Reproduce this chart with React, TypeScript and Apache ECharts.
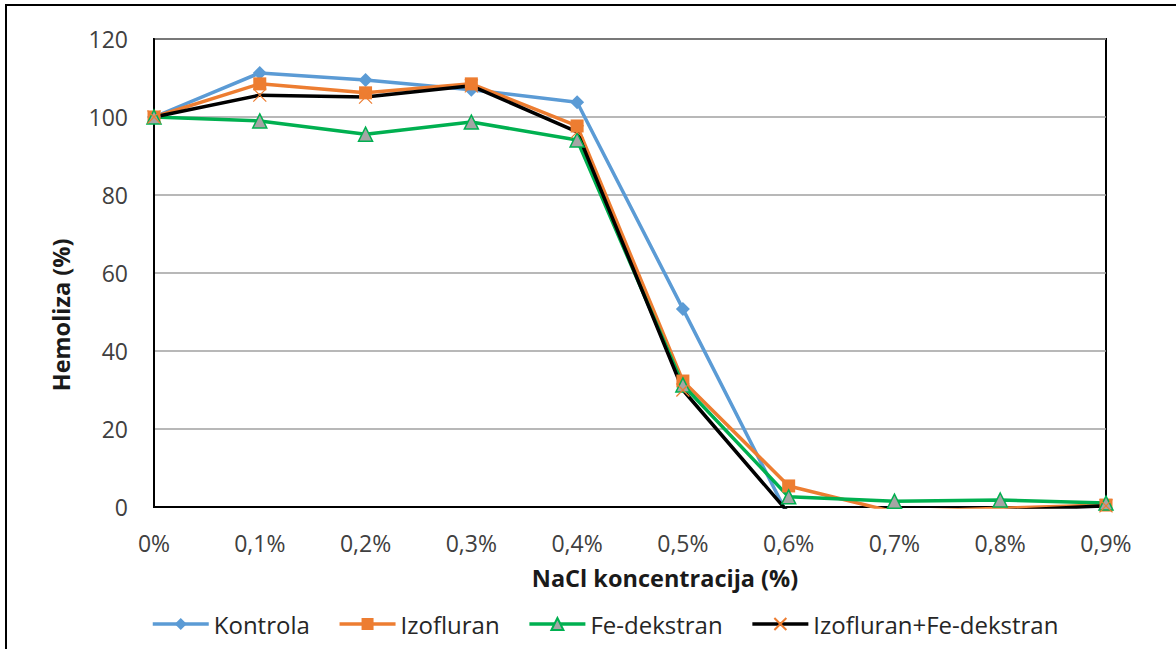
import React, { useEffect, useRef } from "react";
import * as echarts from "echarts";

const categories = ["0%", "0,1%", "0,2%", "0,3%", "0,4%", "0,5%", "0,6%", "0,7%", "0,8%", "0,9%"];
const kontrola = [100, 111.3, 109.5, 107, 103.8, 50.8, -2.5, -2, -1.8, -1.5];
const izofluran = [100, 108.5, 106.2, 108.5, 97.7, 32.3, 5.4, -1.3, -0.3, 0.5];
const feDekstran = [100, 99, 95.6, 98.7, 94.1, 31.3, 2.6, 1.5, 1.8, 1.0];
const izoFe = [100, 105.6, 105.1, 108, 96.2, 30, -1.5, -1, -1, 0.3];
const yTicks = { min: 0, max: 120, interval: 20 };

const FONT = "'Open Sans', 'Noto Sans', sans-serif";

export default function App() {
  const ref = useRef<HTMLDivElement>(null);
  useEffect(() => {
    if (!ref.current) return;
    const chart = echarts.init(ref.current, null, { renderer: "svg" });
    const lineW = 3.5;
    chart.setOption({
      animation: false,
      backgroundColor: "#ffffff",
      textStyle: { fontFamily: FONT },
      grid: {
        left: 154,
        right: 70,
        top: 39,
        bottom: 142,
        show: true,
        borderColor: "#000000",
        borderWidth: 2,
        containLabel: false,
      },
      xAxis: {
        type: "category",
        data: categories,
        boundaryGap: false,
        axisLine: { show: true, lineStyle: { color: "#000000", width: 2 } },
        axisTick: { show: false },
        axisLabel: { color: "#404040", fontSize: 23, fontFamily: FONT, margin: 24 },
        splitLine: { show: false },
      },
      yAxis: {
        type: "value",
        min: yTicks.min,
        max: yTicks.max,
        interval: yTicks.interval,
        axisLine: { show: true, lineStyle: { color: "#000000", width: 2 } },
        axisTick: { show: false },
        axisLabel: { color: "#404040", fontSize: 23, fontFamily: FONT, margin: 26 },
        splitLine: { show: true, lineStyle: { color: "#a0a0a0", width: 1.5 } },
      },
      legend: {
        left: 146,
        top: 607,
        itemWidth: 56,
        itemHeight: 15,
        itemGap: 28,
        lineStyle: { width: 3.5 },
        textStyle: { color: "#262626", fontSize: 24, fontFamily: FONT, padding: [0, 0, 0, 0] },
        data: ["Kontrola", "Izofluran", "Fe-dekstran", "Izofluran+Fe-dekstran"],
      },
      graphic: [
        {
          type: "rect",
          silent: true,
          shape: { x: 6, y: 5, width: 1300, height: 800 },
          style: { fill: "none", stroke: "#000000", lineWidth: 2 },
        },
        {
          type: "text",
          x: 665,
          y: 578,
          style: {
            text: "NaCl koncentracija (%)",
            font: `bold 23.5px ${FONT}`,
            fill: "#1a1a1a",
            align: "center",
            verticalAlign: "middle",
          },
        },
        {
          type: "text",
          x: 61,
          y: 315,
          rotation: Math.PI / 2,
          style: {
            text: "Hemoliza (%)",
            font: `bold 23.5px ${FONT}`,
            fill: "#1a1a1a",
            align: "center",
            verticalAlign: "middle",
          },
        },
      ],
      series: [
        {
          name: "Kontrola",
          type: "line",
          data: kontrola,
          clip: true,
          symbol: "diamond",
          symbolSize: 14,
          lineStyle: { color: "#5B9BD5", width: lineW },
          itemStyle: { color: "#5B9BD5" },
        },
        {
          name: "Izofluran",
          type: "line",
          data: izofluran,
          clip: true,
          symbol: "rect",
          symbolSize: 13,
          lineStyle: { color: "#ED7D31", width: lineW },
          itemStyle: { color: "#ED7D31" },
        },
        {
          name: "Fe-dekstran",
          type: "line",
          data: feDekstran,
          clip: true,
          symbol: "triangle",
          symbolSize: 14,
          lineStyle: { color: "#00B050", width: lineW },
          itemStyle: { color: "#A5A5A5", borderColor: "#00B050", borderWidth: 1.5 },
        },
        {
          name: "Izofluran+Fe-dekstran",
          type: "line",
          data: izoFe,
          clip: true,
          symbol: "path://M0,0L10,10M10,0L0,10",
          symbolSize: 13,
          lineStyle: { color: "#000000", width: lineW },
          itemStyle: { color: "#000000", borderColor: "#ED7D31", borderWidth: 1.2 },
        },
      ],
    });
    return () => chart.dispose();
  }, []);
  return (
    <div
      ref={ref}
      style={{ position: "fixed", left: 0, top: 0, width: 1176, height: 649 }}
    />
  );
}
